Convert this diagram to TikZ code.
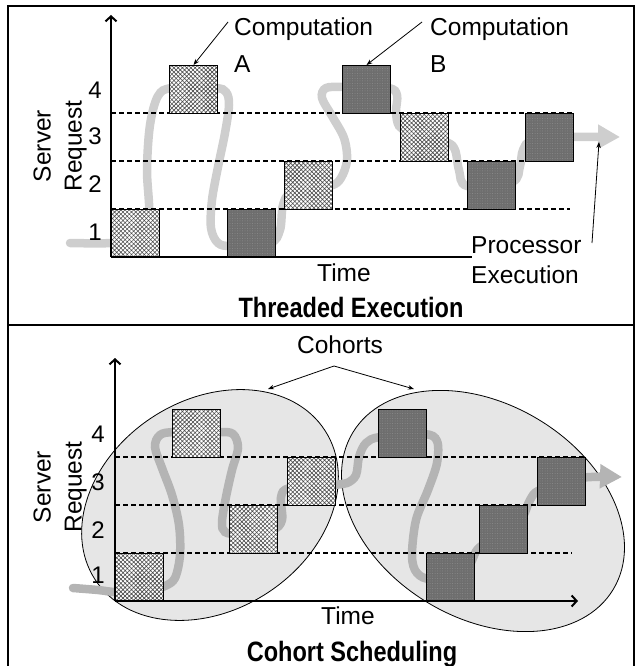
\documentclass[tikz,border=0pt]{standalone}
\usepackage{fontspec}
\setmainfont{Liberation Sans}
\usepackage{graphicx}
\usetikzlibrary{arrows.meta, patterns.meta}
\definecolor{shade}{HTML}{E6E6E6}
\definecolor{pathgray}{HTML}{CECECE}
\definecolor{pathdark}{HTML}{B4B4B4}
\definecolor{boxdark}{HTML}{6E6E6E}

\begin{document}
\begin{tikzpicture}[x=1pt, y=-1pt,
  lbl/.style={font=\fontsize{24.5}{30}\selectfont, inner sep=0pt},
  num/.style={font=\fontsize{24}{28}\selectfont, inner sep=0pt},
  ttl/.style={font=\fontsize{28}{32}\selectfont\bfseries, inner sep=0pt},
  lightbox/.style={draw, line width=1pt, minimum size=48pt, inner sep=0pt, anchor=north west,
    preaction={fill=white}, pattern={Hatch[angle=45, distance=3pt, line width=0.6pt]}, pattern color=black!70},
  darkbox/.style={draw, line width=1pt, minimum size=48pt, inner sep=0pt, anchor=north west,
    preaction={fill=boxdark}, pattern={Dots[distance=2.5pt, radius=0.5pt]}, pattern color=black!45},
  level/.style={line width=1.3pt, dash pattern=on 5pt off 3pt},
  axis/.style={line width=2pt},
  exec/.style={line width=8.5pt, line cap=round, -{Triangle[length=22pt, width=23pt]}},
  note/.style={line width=0.8pt, -{Stealth[length=6pt, width=4.5pt]}},
  cohort/.style={draw, line width=0.8pt, fill=shade},
]
\useasboundingbox (0,0) rectangle (637,666);

% frame
\draw[line width=2pt] (8,667) -- (8,6) -- (634,6) -- (634,667);
\draw[line width=2pt] (8,325) -- (634,325);

% ---- threaded execution ----
\draw[exec, pathgray] plot[smooth, tension=0.55] coordinates {
  (70,243) (112,243) (140,238) (149,215) (147,170) (150,125) (158,96) (172,88)
  (215,88) (226,92) (229,105) (225,133) (218,167) (212,200) (211,228) (218,243)
  (232,246) (270,243) (280,230) (283,205) (292,193) (330,186) (341,178) (347,160)
  (344,138) (332,116) (322,98) (326,88) (345,87) (388,88) (397,95) (396,112)
  (399,126) (410,132) (446,142) (455,150) (459,170) (467,186) (512,182) (520,166)
  (523,150) (533,140) (572,137) (620,137)};

\draw[level] (111,209) -- (570,209);
\draw[level] (111,161) -- (573,161);
\draw[level] (111,113) -- (573,113);

\node[lightbox] (tA1) at (111,209) {};
\node[lightbox] (tA2) at (169,65) {};
\node[darkbox] (tB1) at (227,209) {};
\node[lightbox] (tA3) at (284,161) {};
\node[darkbox] (tB2) at (342,65) {};
\node[lightbox] (tA4) at (400,113) {};
\node[darkbox] (tB3) at (467,161) {};
\node[darkbox] (tB4) at (525,113) {};

\coordinate (tO) at (111,257);
\draw[axis, -{Straight Barb[length=5pt, width=11pt]}] (tO) -- (111,15);
\draw[axis] (tO) -- (472,257);

\node[num] (t1) at (95,232) {1};
\node[num] (t2) at (95,184) {2};
\node[num] (t3) at (95,136) {3};
\node[num] (t4) at (95,90) {4};
\node[lbl, rotate=90, align=center, font=\fontsize{24.5}{31}\selectfont] (srvT) at (60,146) {Server\\Request};

\node[lbl, align=left, anchor=north west, font=\fontsize{24.5}{37}\selectfont] (compA) at (234,18) {Computation\\A};
\node[lbl, align=left, anchor=north west, font=\fontsize{24.5}{37}\selectfont] (compB) at (430,18) {Computation\\B};
\coordinate (compAtail) at (228,22);
\coordinate (compBtail) at (422,22);
\draw[note] (compAtail) -- (tA2.north);
\draw[note] (compBtail) -- (tB2.north);

\node[lbl, align=left, anchor=north west] (proc) at (471,236) {Processor\\Execution};
\coordinate (procTail) at (592,243);
\coordinate (execTip) at (599,142);
\draw[note] (procTail) -- (execTip);

\node[lbl, anchor=north] (timeT) at (344,264) {Time};
\node[ttl, anchor=north] (ttlT) at (351,297) {\scalebox{0.84}[1]{Threaded Execution}};

% ---- cohort scheduling ----
\draw[cohort, rotate around={33:(210,505)}] (210,505) ellipse [x radius=137pt, y radius=105pt];
\draw[cohort, rotate around={-31:(483,511)}] (483,511) ellipse [x radius=152pt, y radius=107pt];

\draw[exec, pathdark] plot[smooth, tension=0.55] coordinates {
  (73,588) (98,590) (117,592) (150,590) (165,586) (175,578) (180,555) (179,525)
  (172,495) (162,468) (155,447) (160,435) (175,432) (218,432) (233,434) (238,448)
  (232,470) (226,497) (222,522) (225,532) (240,534) (272,530) (282,520) (281,497)
  (290,488) (332,485) (347,483) (356,475) (359,457) (366,443) (380,437) (424,434)
  (437,441) (437,463) (428,490) (416,520) (412,556) (417,573) (432,579) (465,570)
  (477,550) (490,540) (520,520) (530,500) (540,490) (580,478) (622,477)};

\draw[level] (115,553) -- (572,553);
\draw[level] (115,505) -- (585,505);
\draw[level] (115,457) -- (585,457);

\node[lightbox] (cA1) at (115,553) {};
\node[lightbox] (cA2) at (172,409) {};
\node[lightbox] (cA3) at (229,505) {};
\node[lightbox] (cA4) at (287,457) {};
\node[darkbox] (cB1) at (378,409) {};
\node[darkbox] (cB2) at (426,553) {};
\node[darkbox] (cB3) at (479,505) {};
\node[darkbox] (cB4) at (537,457) {};

\coordinate (cO) at (115,601);
\draw[axis, -{Straight Barb[length=5pt, width=11pt]}] (cO) -- (115,358);
\draw[axis, -{Straight Barb[length=5pt, width=11pt]}] (cO) -- (578,601);

\node[num] (c1) at (98,575) {1};
\node[num] (c2) at (98,530) {2};
\node[num] (c3) at (98,482) {3};
\node[num] (c4) at (98,434) {4};
\node[lbl, rotate=90, align=center, font=\fontsize{24.5}{31}\selectfont] (srvC) at (60,487) {Server\\Request};

\node[lbl, anchor=north] (cohorts) at (340,336) {Cohorts};
\coordinate (cohSplit) at (334,366);
\coordinate (cohL) at (268,389);
\coordinate (cohR) at (414,389);
\draw[note] (cohSplit) -- (cohL);
\draw[note] (cohSplit) -- (cohR);

\node[lbl, anchor=north] (timeC) at (348,607) {Time};
\node[ttl, anchor=north] (ttlC) at (352,641) {\scalebox{0.84}[1]{Cohort Scheduling}};

\end{tikzpicture}
\end{document}
